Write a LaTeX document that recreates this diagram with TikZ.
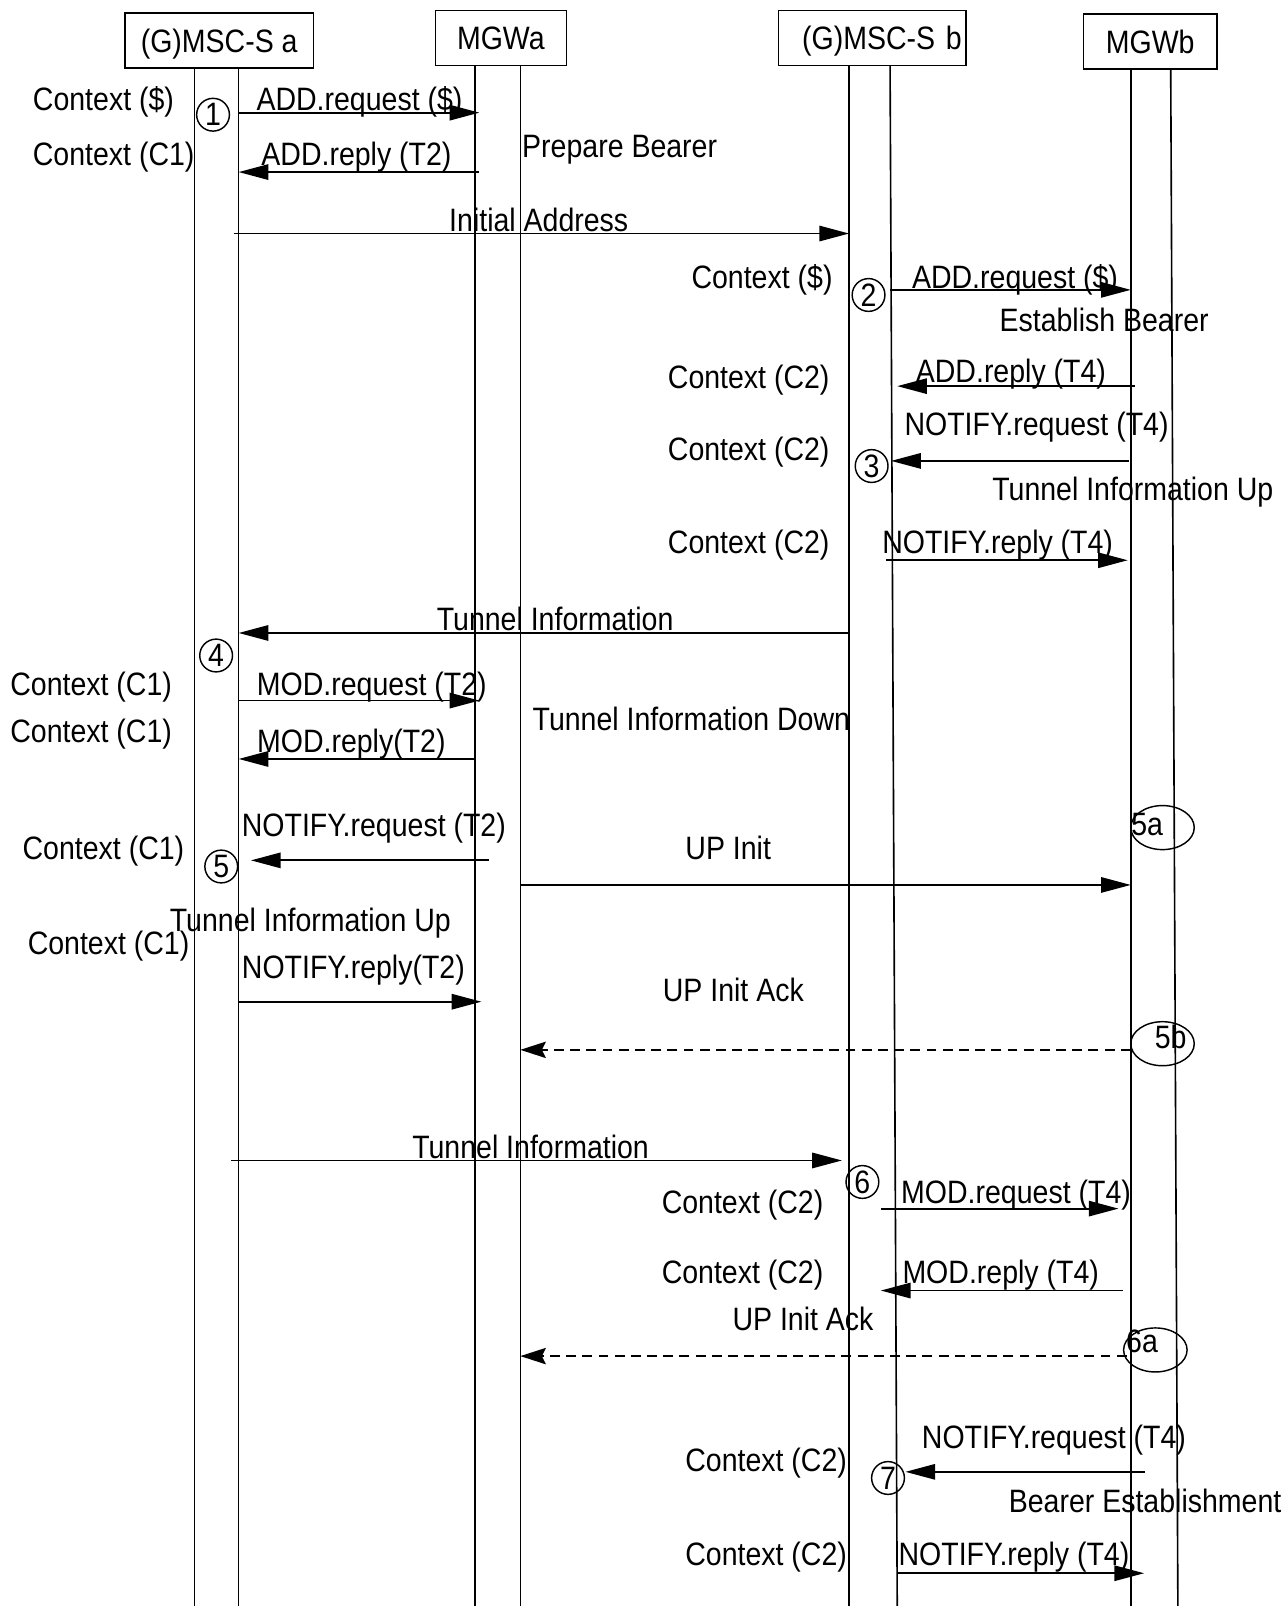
\documentclass[tikz,border=0pt]{standalone}
\usepackage{fontspec}
\setmainfont{Liberation Sans}[FakeStretch=0.88]
\usetikzlibrary{arrows.meta, shapes.geometric, calc}

\begin{document}
\begin{tikzpicture}[x=0.02cm, y=-0.02cm,
  font=\fontsize{18}{20}\selectfont,
  every node/.style={text depth=0pt},
  hdr/.style={draw, line width=0.8pt, minimum height=1.08cm, inner sep=0pt},
  life/.style={line width=0.9pt},
  msg/.style={line width=1pt, -{Triangle[length=0.58cm, width=0.3cm]}},
  ack/.style={line width=1pt, dash pattern=on 5.5pt off 3.5pt, -{Stealth[length=0.5cm, width=0.32cm, inset=0.08cm]}},
  num/.style={draw, circle, line width=0.8pt, minimum size=0.64cm, inner sep=0pt},
  oval/.style={draw, ellipse, line width=0.8pt, minimum width=1.24cm, minimum height=0.86cm, inner sep=0pt}]
  \useasboundingbox (0,0) rectangle (1256,1568);

  % headers
  \node[hdr, minimum width=3.68cm] (gmsca) at (214,39.5) {(G)MSC-S a};
  \node[hdr, minimum width=2.56cm] (mgwa) at (489,37) {MGWa};
  \node[hdr, text width=3.5cm, align=right, inner xsep=0.08cm] (gmscb) at (851.5,37) {(G)MSC-S b};
  \node[hdr, minimum width=2.6cm] (mgwb) at (1123,40.5) {MGWb};

  % lifelines
  \coordinate (A1) at (190,66);
  \coordinate (A2) at (233,66);
  \coordinate (MA1) at (464,64);
  \coordinate (MA2) at (508,64);
  \coordinate (B1) at (829,64);
  \coordinate (B2) at (869,64);
  \coordinate (MB1) at (1104,67);
  \coordinate (MB2) at (1143,67);
  \foreach \l in {A1, A2, MA1, MA2, B1, MB1}
    \draw[life] (\l) -- (\l |- 0,1568);
  \draw[life] (B2) -- (876,1568);
  \draw[life] (MB2) -- (1150,1568);

  % step markers
  \node[num] (n1) at (208,112) {1};
  \node[num] (n2) at (848,288) {2};
  \node[num] (n3) at (851,455) {3};
  \node[num] (n4) at (211,640) {4};
  \node[num] (n5) at (216,846) {5};
  \node[num] (n6) at (842,1154) {6};
  \node[num] (n7) at (867,1443) {7};
  \node[oval] (o5a) at (1135,808) {};
  \node (t5a) at (1120,805) {5a};
  \node[oval] (o5b) at (1135,1019) {};
  \node (t5b) at (1143,1012) {5b};
  \node[oval] (o6a) at (1128,1318) {};
  \node (t6a) at (1115,1309) {6a};

  % prepare bearer
  \node (c1) at (101,96) {Context (\$)};
  \node (l1) at (351,96) {ADD.request (\$)};
  \draw[msg] (A2 |- 0,110) -- ($(MA1 |- 0,110)+(4,0)$);
  \node (c2) at (111,150) {Context (C1)};
  \node (l2) at (348,150) {ADD.reply (T2)};
  \draw[msg] ($(MA1 |- 0,168)+(4,0)$) -- (A2 |- 0,168);
  \node (pb) at (605,143) {Prepare Bearer};

  \node (l3) at (526,215) {Initial Address};
  \draw[msg] ($(A2 |- 0,228)+(-5,0)$) -- (B1 |- 0,228);

  % establish bearer
  \node (c3) at (744,270) {Context (\$)};
  \node (l4) at (991,270) {ADD.request (\$)};
  \draw[msg] (B2 |- 0,283) -- (MB1 |- 0,283);
  \node (eb) at (1078,312) {Establish Bearer};
  \node (c4) at (731,368) {Context (C2)};
  \node (l5) at (987,362) {ADD.reply (T4)};
  \draw[msg] ($(MB1 |- 0,377)+(4,0)$) -- ($(B2 |- 0,377)+(7,0)$);
  \node (l6) at (1012,414) {NOTIFY.request (T4)};
  \node (c5) at (731,438) {Context (C2)};
  \draw[msg] ($(MB1 |- 0,450)+(-2,0)$) -- ($(B2 |- 0,450)+(1,0)$);
  \node (tu1) at (1106,477) {Tunnel Information Up};
  \node (c6) at (731,529) {Context (C2)};
  \node (l7) at (974,529) {NOTIFY.reply (T4)};
  \draw[msg] ($(B2 |- 0,547)+(-4,0)$) -- ($(MB1 |- 0,547)+(-3,0)$);

  \node (l8) at (542,604) {Tunnel Information};
  \draw[msg] (B1 |- 0,618) -- (A2 |- 0,618);

  % tunnel information down
  \node (c7) at (89,668) {Context (C1)};
  \node (l9) at (363,668) {MOD.request (T2)};
  \draw[msg] (A2 |- 0,684) -- ($(MA1 |- 0,684)+(4,0)$);
  \node (td) at (675,702) {Tunnel Information Down};
  \node (c8) at (89,713) {Context (C1)};
  \node (l10) at (343,723) {MOD.reply(T2)};
  \draw[msg] (MA1 |- 0,741) -- (A2 |- 0,741);

  \node (l11) at (365,805) {NOTIFY.request (T2)};
  \node (c9) at (101,828) {Context (C1)};
  \draw[msg] ($(MA1 |- 0,840)+(13,0)$) -- ($(A2 |- 0,840)+(12,0)$);
  \node (l12) at (711,828) {UP Init};
  \draw[msg] (MA2 |- 0,864) -- (MB1 |- 0,864);
  \node (tu2) at (303,898) {Tunnel Information Up};
  \node (c10) at (106,920) {Context (C1)};
  \node (l13) at (345,944) {NOTIFY.reply(T2)};
  \draw[msg] (A2 |- 0,978) -- ($(MA1 |- 0,978)+(6,0)$);
  \node (l14) at (716,966) {UP Init Ack};
  \draw[ack] (MB1 |- 0,1025) -- (MA2 |- 0,1025);

  % bearer establishment
  \node (l15) at (518,1120) {Tunnel Information};
  \draw[msg] ($(A2 |- 0,1133)+(-7,0)$) -- ($(B1 |- 0,1133)+(-7,0)$);
  \node (c11) at (725,1173) {Context (C2)};
  \node (l16) at (992,1164) {MOD.request (T4)};
  \draw[msg] ($(B2 |- 0,1180)+(-9,0)$) -- ($(MB1 |- 0,1180)+(-12,0)$);
  \node (c12) at (725,1242) {Context (C2)};
  \node (l17) at (977,1242) {MOD.reply (T4)};
  \draw[msg] ($(MB1 |- 0,1260)+(-8,0)$) -- ($(B2 |- 0,1260)+(-9,0)$);
  \node (l18) at (784,1288) {UP Init Ack};
  \draw[ack] ($(MB1 |- 0,1324)+(-4,0)$) -- (MA2 |- 0,1324);
  \node (l19) at (1029,1403) {NOTIFY.request (T4)};
  \node (c13) at (748,1425) {Context (C2)};
  \draw[msg] ($(MB1 |- 0,1437)+(14,0)$) -- ($(B2 |- 0,1437)+(15,0)$);
  \node (be) at (1118,1465) {Bearer Establishment};
  \node (c14) at (748,1517) {Context (C2)};
  \node (l20) at (990,1517) {NOTIFY.reply (T4)};
  \draw[msg] ($(B2 |- 0,1536)+(8,0)$) -- ($(MB1 |- 0,1536)+(13,0)$);
\end{tikzpicture}
\end{document}
